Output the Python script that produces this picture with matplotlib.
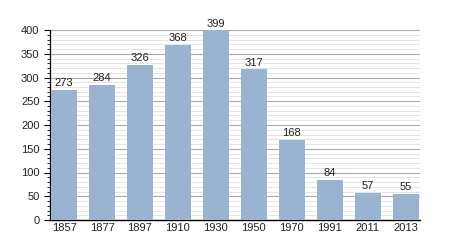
import matplotlib
matplotlib.use('Agg')
import matplotlib.pyplot as plt
from matplotlib.ticker import MultipleLocator

# Данные
years = ['1857', '1877', '1897', '1910', '1930', '1950', '1970', '1991', '2011', '2013']
population = [273, 284, 326, 368, 399, 317, 168, 84, 57, 55]

plt.rcParams['font.family'] = ['Liberation Sans', 'DejaVu Sans']

fig = plt.figure(figsize=(4.5, 2.5), dpi=100)
ax = fig.add_axes([0.111, 0.12, 0.822, 0.76])

x = range(len(years))
bars = ax.bar(x, population, width=0.69, color='#9ab3d0', zorder=3)

for xi, v in zip(x, population):
    ax.text(xi, v + 4, str(v), ha='center', va='bottom', fontsize=8, color='#222222', zorder=4)

ax.set_xlim(-0.37, len(years) - 0.63)
ax.set_ylim(0, 400)
ax.set_xticks(list(x))
ax.set_xticklabels(years, fontsize=8, color='#222222')
ax.yaxis.set_major_locator(MultipleLocator(50))
ax.yaxis.set_minor_locator(MultipleLocator(10))
ax.tick_params(axis='y', which='major', labelsize=8, labelcolor='#222222', length=4, width=0.8)
ax.tick_params(axis='y', which='minor', length=2, width=0.6)
ax.tick_params(axis='x', length=0, pad=2)

# Сетка
ax.grid(axis='y', which='major', color='#aaaaaa', linewidth=0.8, zorder=1)
ax.grid(axis='y', which='minor', color='#e0e0e0', linewidth=0.6, zorder=1)

for s in ['top', 'right']:
    ax.spines[s].set_visible(False)
ax.spines['left'].set_linewidth(0.9)
ax.spines['bottom'].set_linewidth(1.0)

fig.savefig('out.png', dpi=100)
